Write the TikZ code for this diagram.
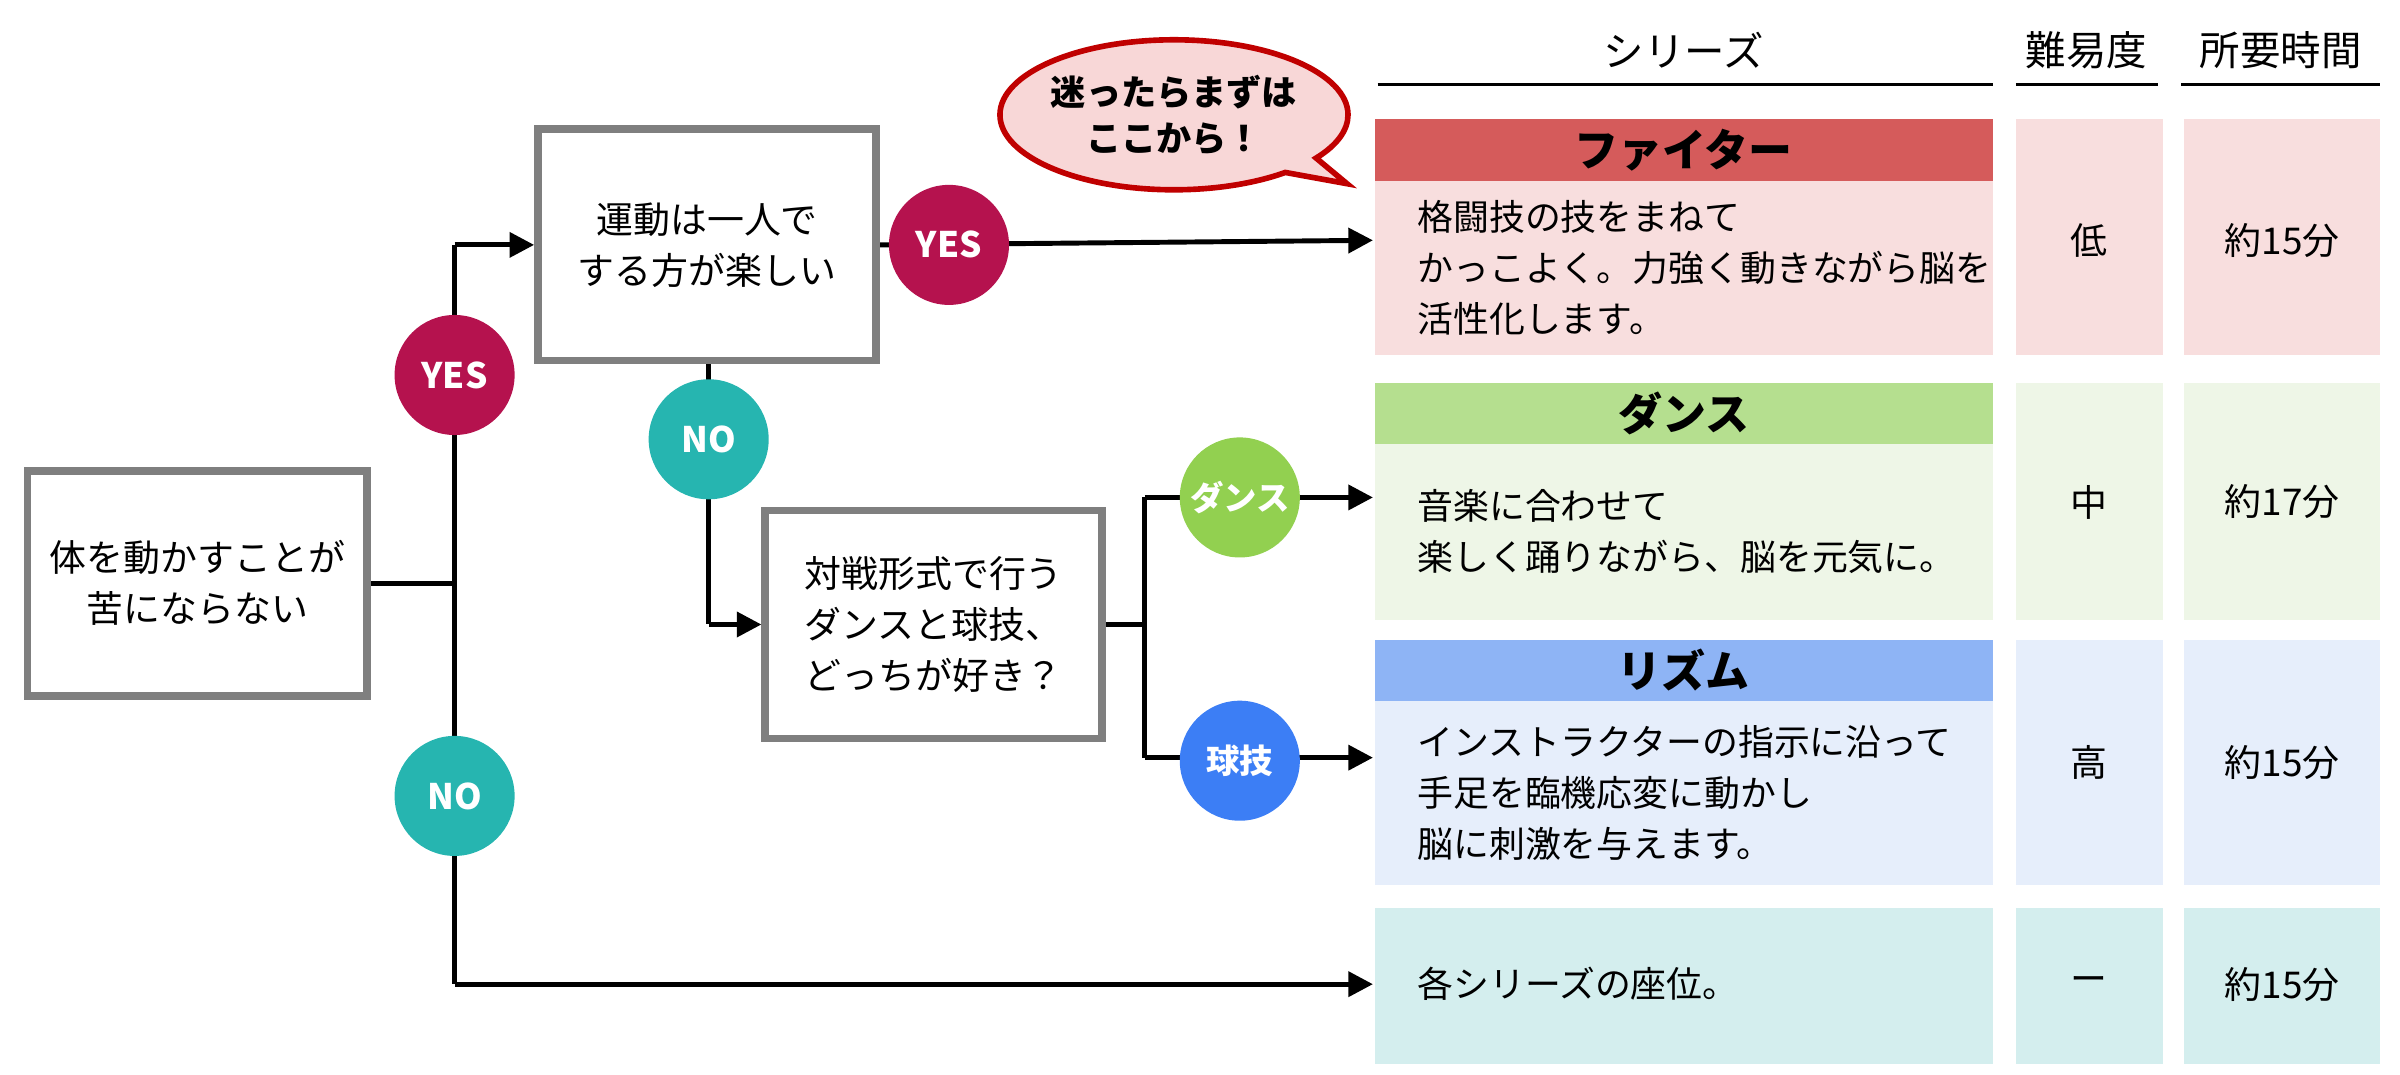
\documentclass[tikz,border=0pt]{standalone}
\usepackage{fontspec}
\setmainfont{Noto Sans CJK JP}
\usetikzlibrary{arrows.meta,shapes.callouts}
\definecolor{yescol}{HTML}{B5124E}
\definecolor{nocol}{HTML}{26B5B0}
\definecolor{dancol}{HTML}{92D050}
\definecolor{balcol}{HTML}{3C7EF5}
\definecolor{boxgray}{HTML}{7F7F7F}
\tikzset{
  qbox/.style={draw=boxgray, line width=2.2pt, fill=white, align=center, inner sep=0pt},
  dot/.style={circle, minimum size=12mm, inner sep=0pt, text=white, font=\bfseries\fontsize{10}{12}\selectfont},
  flow/.style={line width=1.4pt, -{Triangle[length=7pt,width=7pt]}},
  link/.style={line width=1.4pt},
  body/.style={font=\fontsize{10.5}{14.5}\selectfont},
  desc/.style={align=left, anchor=west, font=\fontsize{10.2}{14.5}\selectfont}
}
\begin{document}
\begin{tikzpicture}[x=0.153mm, y=-0.153mm, body]
\useasboundingbox (0,0) rectangle (1568,702);
% question boxes
\node[qbox, minimum width=222*0.153mm, minimum height=147*0.153mm] (q1) at (129,381) {体を動かすことが\\苦にならない};
\node[qbox, minimum width=221*0.153mm, minimum height=151*0.153mm] (q2) at (462,160) {運動は一人で\\する方が楽しい};
\node[qbox, minimum width=220*0.153mm, minimum height=149*0.153mm] (q3) at (610,408) {対戦形式で行う\\ダンスと球技、\\どっちが好き？};
% table cells
\foreach \y/\h/\col in {78/154/F8DEDE, 250/155/EEF6E7, 418/160/E6EEFB, 593/102/D4EEEE}{
  \definecolor{tmp}{HTML}{\col}
  \fill[tmp] (898,\y) rectangle (1302,\y+\h);
  \fill[tmp] (1317,\y) rectangle (1413,\y+\h);
  \fill[tmp] (1427,\y) rectangle (1555,\y+\h);
}
\fill[fill={rgb,255:red,213;green,91;blue,91}] (898,78) rectangle (1302,118);
\fill[fill={rgb,255:red,181;green,223;blue,143}] (898,250) rectangle (1302,290);
\fill[fill={rgb,255:red,142;green,180;blue,245}] (898,418) rectangle (1302,458);
\node[font=\bfseries\fontsize{12.5}{14}\selectfont] (t1) at (1100,98) {ファイター};
\node[font=\bfseries\fontsize{12.5}{14}\selectfont] (t2) at (1100,270) {ダンス};
\node[font=\bfseries\fontsize{12.5}{14}\selectfont] (t3) at (1100,438) {リズム};
% header
\node[font=\fontsize{11.5}{14}\selectfont] (h1) at (1100,33) {シリーズ};
\node[font=\fontsize{11.5}{14}\selectfont] (h2) at (1363,33) {難易度};
\node[font=\fontsize{11.5}{14}\selectfont] (h3) at (1490,33) {所要時間};
\draw[line width=0.8pt] (900,55) -- (1302,55) (1317,55) -- (1410,55) (1425,55) -- (1555,55);
% body texts
\node[desc] (b1) at (918,175) {格闘技の技をまねて\\かっこよく。力強く動きながら脳を\\活性化します。};
\node[desc] (b2) at (918,347) {音楽に合わせて\\楽しく踊りながら、脳を元気に。};
\node[desc] (b3) at (918,518) {インストラクターの指示に沿って\\手足を臨機応変に動かし\\脳に刺激を与えます。};
\node[desc] (b4) at (918,643) {各シリーズの座位。};
\node (d1) at (1365,157) {低};  \node (m1) at (1491,157) {約15分};
\node (d2) at (1365,328) {中};  \node (m2) at (1491,328) {約17分};
\node (d3) at (1365,498) {高};  \node (m3) at (1491,498) {約15分};
\node (d4) at (1365,643) {ー};  \node (m4) at (1491,643) {約15分};
% junctions
\coordinate (j1) at (297,381);
\coordinate (j1t) at (297,160);
\coordinate (j1b) at (297,643);
\coordinate (j2) at (463,408);
\coordinate (j3) at (748,408);
\coordinate (j3t) at (748,325);
\coordinate (j3b) at (748,495);
\coordinate (e1) at (897,157);
\coordinate (e2) at (897,325);
\coordinate (e3) at (897,495);
\coordinate (e4) at (897,643);
% connectors
\draw[link] (q1.east) -- (j1) (j1t) -- (j1b);
\draw[flow] (j1t) -- (q2.west);
\draw[flow] (j1b) -- (e4);
\draw[flow] (q2.east) -- (e1);
\draw[link] (q2.south -| j2) -- (j2);
\draw[flow] (j2) -- (q3.west);
\draw[link] (q3.east) -- (j3) (j3t) -- (j3b);
\draw[flow] (j3t) -- (e2);
\draw[flow] (j3b) -- (e3);
% answer dots
\node[dot, fill=yescol] (y1) at (297,245) {YES};
\node[dot, fill=nocol] (n1) at (297,520) {NO};
\node[dot, fill=yescol] (y2) at (620,160) {YES};
\node[dot, fill=nocol] (n2) at (463,287) {NO};
\node[dot, fill=dancol, font=\bfseries\fontsize{9.5}{12}\selectfont] (a1) at (810,325) {ダンス};
\node[dot, fill=balcol, font=\bfseries\fontsize{9.5}{12}\selectfont] (a2) at (810,497) {球技};
% callout
\node[ellipse callout, draw={rgb,255:red,192;green,0;blue,0}, line width=1.6pt,
  fill={rgb,255:red,248;green,215;blue,215}, minimum width=200*0.153mm, minimum height=98*0.153mm,
  callout absolute pointer={(880,120)}, align=center, inner sep=0pt,
  font=\bfseries\fontsize{10}{13}\selectfont] (tip) at (767,75) {迷ったらまずは\\ここから！};
\end{tikzpicture}
\end{document}
